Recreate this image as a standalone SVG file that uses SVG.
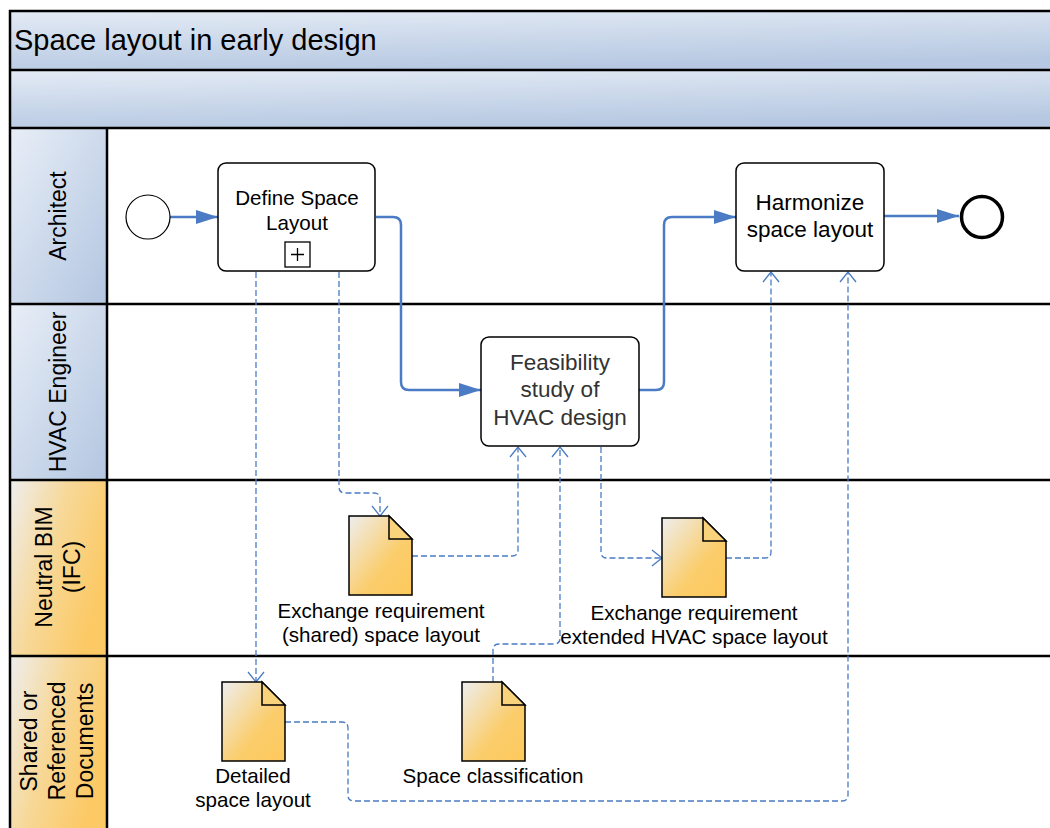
<svg xmlns="http://www.w3.org/2000/svg" width="1050" height="828" viewBox="0 0 1050 828">
<defs>
<linearGradient id="gBlue" x1="0" y1="0" x2="1" y2="1">
<stop offset="0" stop-color="#e8eef7"/>
<stop offset="1" stop-color="#b3c6e1"/>
</linearGradient>
<linearGradient id="gBand" x1="0" y1="0" x2="0.3" y2="1">
<stop offset="0" stop-color="#e4ebf5"/>
<stop offset="1" stop-color="#b7c9e2"/>
</linearGradient>
<linearGradient id="gOrange" x1="0" y1="0" x2="1" y2="0.5">
<stop offset="0" stop-color="#eeeeee"/>
<stop offset="0.5" stop-color="#f7d898"/>
<stop offset="1" stop-color="#fcc964"/>
</linearGradient>
<linearGradient id="gDoc" x1="0" y1="0" x2="1" y2="1">
<stop offset="0" stop-color="#eeeeee"/>
<stop offset="0.6" stop-color="#fbcd6c"/>
<stop offset="1" stop-color="#fdc95c"/>
</linearGradient>
<marker id="arr" markerUnits="userSpaceOnUse" markerWidth="22" markerHeight="14" refX="22" refY="7" orient="auto">
<path d="M0,0 L22,7 L0,14 z" fill="#4a7bc4"/>
</marker>
<marker id="oarr" markerUnits="userSpaceOnUse" markerWidth="12" markerHeight="18" refX="11" refY="9" orient="auto">
<path d="M1,1 L11,9 L1,17" fill="none" stroke="#4a7bc4" stroke-width="1.3"/>
</marker>
</defs>
<style>
text{font-family:"Liberation Sans",Arial,sans-serif;fill:#000}
.frame{fill:none;stroke:#000;stroke-width:2.5}
.task{fill:#fff;stroke:#000;stroke-width:1.5}
.seq{fill:none;stroke:#4a7bc4;stroke-width:2.5;marker-end:url(#arr)}
.data{fill:none;stroke:#4a7bc4;stroke-width:1.3;stroke-dasharray:6,3}
.dataA{marker-end:url(#oarr)}
.doc{fill:url(#gDoc);stroke:#000;stroke-width:1.5}
.fold{fill:#f9d27c;stroke:#000;stroke-width:1.5}
.lane{font-size:23px;text-anchor:middle}
.lbl{font-size:20.6px;text-anchor:middle}
.big{font-size:22.5px;text-anchor:middle}
</style>
<g id="pool">
<rect x="10" y="11" width="1050" height="59" fill="url(#gBand)"/>
<rect x="10" y="70" width="1050" height="58" fill="url(#gBand)"/>
<rect x="10" y="128" width="1050" height="710" fill="#fff"/>
<rect x="10" y="128" width="97" height="176" fill="url(#gBlue)"/>
<rect x="10" y="304" width="97" height="176" fill="url(#gBlue)"/>
<rect x="10" y="480" width="97" height="176" fill="url(#gOrange)"/>
<rect x="10" y="656" width="97" height="180" fill="url(#gOrange)"/>
<path class="frame" d="M1060,11 H10 V840 M10,70 H1060 M10,128 H1060 M10,304 H1060 M10,480 H1060 M10,656 H1060 M107,128 V840"/>
<text x="14" y="50" style="font-size:29px">Space layout in early design</text>
</g>
<g id="lane-architect"><text class="lane" transform="translate(66,216) rotate(-90)">Architect</text></g>
<g id="lane-hvac"><text class="lane" transform="translate(66,392) rotate(-90)">HVAC Engineer</text></g>
<g id="lane-bim"><text class="lane" transform="translate(0,567) rotate(-90)"><tspan x="0" y="52">Neutral BIM</tspan><tspan x="0" y="80">(IFC)</tspan></text></g>
<g id="lane-docs"><text class="lane" transform="translate(0,741) rotate(-90)"><tspan x="0" y="37">Shared or</tspan><tspan x="0" y="65">Referenced</tspan><tspan x="0" y="93">Documents</tspan></text></g>
<g id="connectors">
<path class="seq" d="M170,217 H218"/>
<path class="seq" d="M376,217 H393 Q401,217 401,225 V382 Q401,390 409,390 H481"/>
<path class="seq" d="M639,390 H656 Q664,390 664,382 V225 Q664,217 672,217 H736"/>
<path class="seq" d="M884,216 H959"/>
<path class="data dataA" d="M256,272 V682"/>
<path class="data dataA" d="M339,272 V487 Q339,493 345,493 H374 Q380,493 380,499 V516"/>
<path class="data dataA" d="M412,556 H512 Q518,556 518,550 V447"/>
<path class="data dataA" d="M493,682 V650 Q493,644 499,644 H554 Q560,644 560,638 V447"/>
<path class="data dataA" d="M601,447 V552 Q601,558 607,558 H662"/>
<path class="data dataA" d="M726,558 H765 Q771,558 771,552 V272"/>
<path class="data dataA" d="M285,722 H342 Q348,722 348,728 V795 Q348,801 354,801 H842 Q848,801 848,795 V272"/>
</g>
<g id="start"><circle cx="148" cy="217" r="22" fill="#fff" stroke="#000" stroke-width="1.2"/></g>
<g id="define-space-layout">
<rect class="task" x="218" y="163" width="157" height="108" rx="8"/>
<text class="lbl" x="297" y="205">Define Space</text>
<text class="lbl" x="297" y="230">Layout</text>
<rect x="285" y="242" width="25" height="25" fill="#fff" stroke="#000" stroke-width="1.3"/>
<path d="M291,254.5 H304 M297.5,248 V261" stroke="#000" stroke-width="1.3"/>
</g>
<g id="feasibility">
<rect class="task" x="481" y="337" width="158" height="109" rx="8"/>
<text class="big" x="560" y="370" style="fill:#333">Feasibility</text>
<text class="big" x="560" y="397" style="fill:#333">study of</text>
<text class="big" x="560" y="425" style="fill:#333">HVAC design</text>
</g>
<g id="harmonize">
<rect class="task" x="736" y="163" width="148" height="108" rx="8"/>
<text class="big" x="810" y="210">Harmonize</text>
<text class="big" x="810" y="237">space layout</text>
</g>
<g id="end"><circle cx="982" cy="217" r="20.5" fill="#fff" stroke="#000" stroke-width="3.5"/></g>
<g id="doc-shared">
<path class="doc" d="M349,516 H389 L412,539 V595 H349 Z"/>
<path class="fold" d="M389,516 V539 H412 Z"/>
<text class="lbl" x="381" y="618">Exchange requirement</text>
<text class="lbl" x="381" y="642">(shared) space layout</text>
</g>
<g id="doc-extended">
<path class="doc" d="M662,518 H703 L726,541 V597 H662 Z"/>
<path class="fold" d="M703,518 V541 H726 Z"/>
<text class="lbl" x="694" y="620">Exchange requirement</text>
<text class="lbl" x="694" y="644">extended HVAC space layout</text>
</g>
<g id="doc-detailed">
<path class="doc" d="M222,682 H262 L285,705 V761 H222 Z"/>
<path class="fold" d="M262,682 V705 H285 Z"/>
<text class="lbl" x="253" y="783">Detailed</text>
<text class="lbl" x="253" y="807">space layout</text>
</g>
<g id="doc-classification">
<path class="doc" d="M462,682 H502 L525,705 V761 H462 Z"/>
<path class="fold" d="M502,682 V705 H525 Z"/>
<text class="lbl" x="493" y="783">Space classification</text>
</g>
</svg>
